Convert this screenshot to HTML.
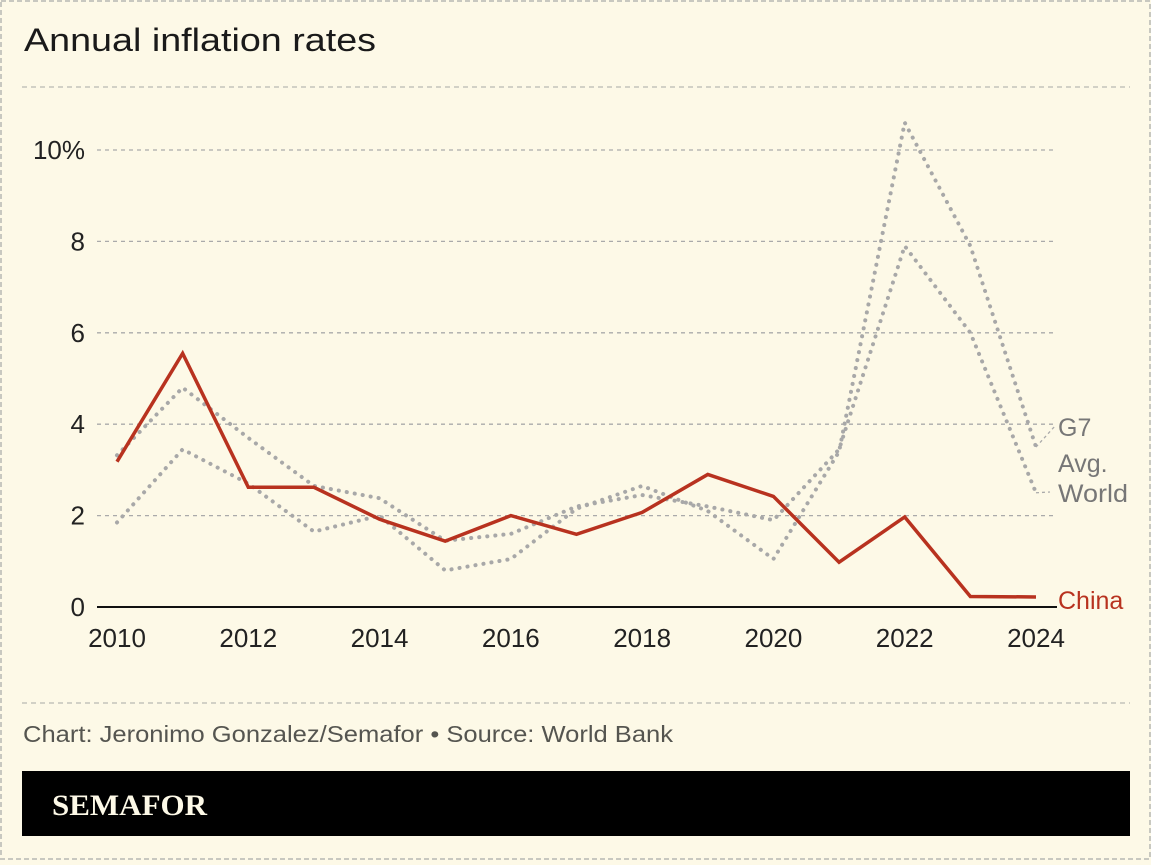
<!DOCTYPE html>
<html><head><meta charset="utf-8"><style>
html,body{margin:0;padding:0;background:#fdf9e7;}
body{width:1151px;height:860px;overflow:hidden;font-family:"Liberation Sans",sans-serif;}
svg text{font-family:"Liberation Sans",sans-serif;}
</style></head><body>
<svg id="chart" width="1151" height="860" xmlns="http://www.w3.org/2000/svg">
<rect x="1" y="1" width="1149" height="858" fill="#fdf9e7" stroke="#c8c8c0" stroke-width="2" stroke-dasharray="5,3"/>
<text x="24" y="51" font-size="32" fill="#1a1a1a" textLength="352" lengthAdjust="spacingAndGlyphs">Annual inflation rates</text>
<line x1="22" y1="87" x2="1130" y2="87" stroke="#c4c4bc" stroke-width="1.5" stroke-dasharray="5,4"/>
<g id="grid"></g>
<g id="yticks"></g>
<g id="xticks"></g>
<g id="series"></g>
<text x="1058" y="436" font-size="25" fill="#777">G7</text>
<text x="1058" y="472" font-size="25" fill="#777">Avg.</text>
<text x="1058" y="502" font-size="25" fill="#777" textLength="70" lengthAdjust="spacingAndGlyphs">World</text>
<text x="1058" y="609" font-size="25" fill="#b8321f">China</text>
<line x1="22" y1="703" x2="1130" y2="703" stroke="#c4c4bc" stroke-width="1.5" stroke-dasharray="5,4"/>
<text x="23" y="742" font-size="23" fill="#555550" textLength="650" lengthAdjust="spacingAndGlyphs">Chart: Jeronimo Gonzalez/Semafor • Source: World Bank</text>
<rect x="22" y="771" width="1108" height="65" fill="#000"/>
<text x="52" y="815" font-size="30" font-weight="bold" fill="#fdf9e7" textLength="155" lengthAdjust="spacingAndGlyphs" style="font-family:'Liberation Serif',serif">SEMAFOR</text>
</svg>
<script>
const years = [2010,2011,2012,2013,2014,2015,2016,2017,2018,2019,2020,2021,2022,2023,2024];
const china = [3.18,5.55,2.62,2.62,1.92,1.44,2.0,1.59,2.07,2.9,2.42,0.98,1.97,0.23,0.22];
const world = [3.32,4.8,3.7,2.65,2.38,1.45,1.6,2.2,2.45,2.2,1.9,3.45,7.9,6.0,2.5];
const g7 = [1.85,3.45,2.7,1.65,2.0,0.8,1.05,2.15,2.65,2.1,1.05,3.4,10.6,7.9,3.5];
const yTicks = [0,2,4,6,8,10];
const yTickLabels = ["0","2","4","6","8","10%"];
const xTicks = [2010,2012,2014,2016,2018,2020,2022,2024];
const NS="http://www.w3.org/2000/svg";
function xs(y){return 117+(y-2010)*(1036-117)/14;}
function ys(v){return 607-v*45.7;}
function mk(tag,attrs,parent){const e=document.createElementNS(NS,tag);for(const k in attrs)e.setAttribute(k,attrs[k]);parent.appendChild(e);return e;}
const grid=document.getElementById('grid'),yt=document.getElementById('yticks'),xt=document.getElementById('xticks'),ser=document.getElementById('series');
yTicks.forEach((v,i)=>{
  if(v>0){const l=mk('line',{x1:97,x2:1057,y1:ys(v),y2:ys(v),stroke:'#aaa','stroke-width':1.3,'stroke-dasharray':'4,4'},grid);
  
  }
  const t=mk('text',{x:85,y:ys(v)+9,'text-anchor':'end','font-size':26,fill:'#222'},yt);
  t.textContent=yTickLabels[i];
  
  
});
const base=mk('line',{x1:97,x2:1057,y1:ys(0),y2:ys(0),stroke:'#111','stroke-width':2},grid);


xTicks.forEach(y=>{
  const t=mk('text',{x:xs(y),y:647,'text-anchor':'middle','font-size':26,fill:'#222'},xt);
  t.textContent=String(y);
  
  
});
function pts(arr){return arr.map((v,i)=>xs(years[i])+','+ys(v)).join(' ');}
const gl=mk('polyline',{points:pts(g7),fill:'none',stroke:'#a8a8a8','stroke-width':4,'stroke-dasharray':'0.1,8','stroke-linecap':'round'},ser);


const wl=mk('polyline',{points:pts(world),fill:'none',stroke:'#a8a8a8','stroke-width':4,'stroke-dasharray':'0.1,8','stroke-linecap':'round'},ser);


const n=years.length-1;
const g7lead=mk('line',{x1:xs(years[n]),y1:ys(g7[n]),x2:1055,y2:426,stroke:'#aaa','stroke-width':1.3,'stroke-dasharray':'3,3'},ser);


const wlead=mk('line',{x1:xs(years[n]),y1:ys(world[n]),x2:1050,y2:492,stroke:'#aaa','stroke-width':1.3,'stroke-dasharray':'3,3'},ser);


const cl=mk('polyline',{points:pts(china),fill:'none',stroke:'#b8321f','stroke-width':3.5,'stroke-linejoin':'miter'},ser);


</script>
</body></html>
